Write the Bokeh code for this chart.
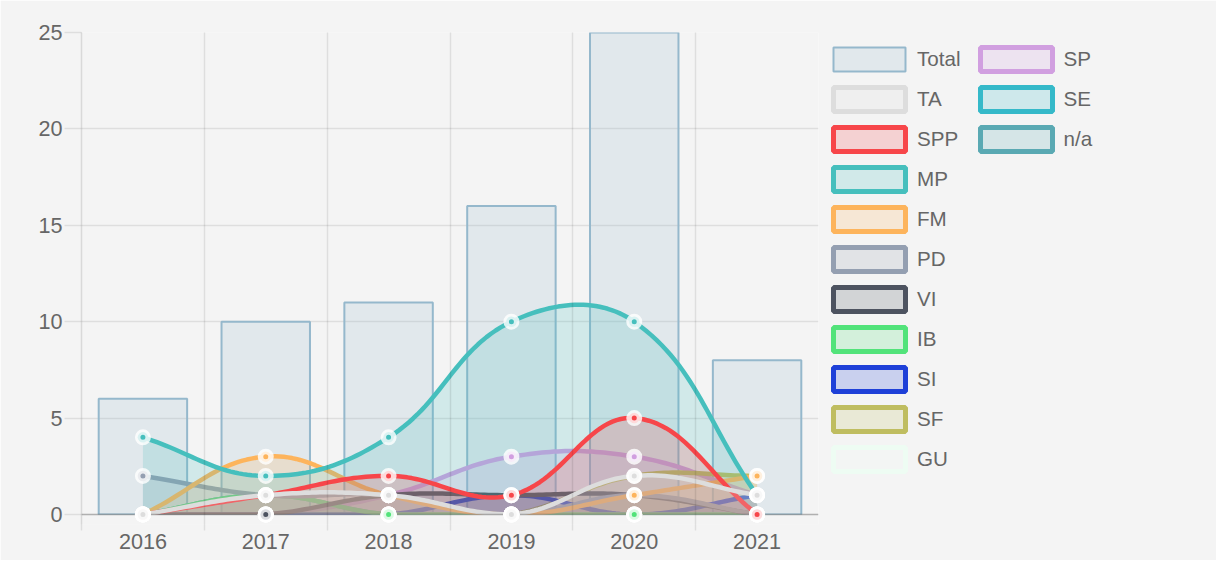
import numpy as np
from bokeh.plotting import figure
from bokeh.models import Range1d, FixedTicker, Legend, LegendItem, Span, BoxAnnotation
from bokeh.embed import file_html
from bokeh.resources import INLINE

years = ["2016", "2017", "2018", "2019", "2020", "2021"]
total = [6, 10, 11, 16, 25, 8]

names = ["TA", "SPP", "MP", "FM", "PD", "VI", "IB", "SI", "SF", "GU", "SP", "SE", "n/a"]
ta = [0, 1, 1, 0, 2, 1]
spp = [0, 1, 2, 1, 5, 0]
mp = [4, 2, 4, 10, 10, 1]
fm = [0, 3, 1, 0, 1, 2]
pd_ = [2, 1, 1, 0, 1, 0]
vi = [0, 0, 1, 1, 1, 0]
ib = [0, 1, 0, 0, 0, 0]
si = [0, 0, 0, 1, 0, 1]
sf = [0, 0, 0, 0, 2, 2]
gu = [0, 0, 0, 0, 0, 0]
sp = [0, 0, 1, 3, 3, 1]
se = [0, 0, 0, 0, 0, 0]
na = [0, 1, 0, 0, 0, 0]
series = [ta, spp, mp, fm, pd_, vi, ib, si, sf, gu, sp, se, na]
colors = ["#dddddd", "#f7464a", "#46bfbd", "#fdb45c", "#949fb1", "#4d5360",
          "#52e37a", "#1e40d8", "#bfbd60", "#eefcf3", "#d19fe0", "#35b9c9", "#5aa9b3"]
total_color = "#95b8cc"

# pixel scales used for Chart.js-like spline control points
SX, SY = 122.8, 19.28
YMAX = 25


def smooth(vals, t=0.4, n=30):
    N = len(vals)
    px = np.arange(N) * SX
    py = np.array(vals, float) * SY
    cpp, cpn = [], []
    for i in range(N):
        a = max(i - 1, 0)
        b = min(i + 1, N - 1)
        d01 = np.hypot(px[i] - px[a], py[i] - py[a])
        d12 = np.hypot(px[b] - px[i], py[b] - py[i])
        s = d01 + d12
        s01 = d01 / s if s else 0.0
        s12 = d12 / s if s else 0.0
        fa, fb = t * s01, t * s12
        dx, dy = px[b] - px[a], py[b] - py[a]
        cl = lambda v: min(max(v, 0.0), YMAX * SY)
        cpp.append((px[i] - fa * dx, cl(py[i] - fa * dy)))
        cpn.append((px[i] + fb * dx, cl(py[i] + fb * dy)))
    xs, ys = [px[0]], [py[0]]
    tt = np.linspace(0, 1, n + 1)[1:]
    for i in range(N - 1):
        p0 = np.array([px[i], py[i]])
        p1 = np.array(cpn[i])
        p2 = np.array(cpp[i + 1])
        p3 = np.array([px[i + 1], py[i + 1]])
        for u in tt:
            q = (1 - u) ** 3 * p0 + 3 * (1 - u) ** 2 * u * p1 + 3 * (1 - u) * u ** 2 * p2 + u ** 3 * p3
            xs.append(q[0])
            ys.append(q[1])
    return np.array(xs) / SX, np.array(ys) / SY


FONT = "Liberation Sans"
TEXT = "#666666"
BG = "#f4f4f4"

p = figure(frame_width=737, frame_height=492,
           min_border_left=81, min_border_top=32, min_border_right=390, min_border_bottom=36,
           x_range=Range1d(-0.5, 5.5), y_range=Range1d(-0.52, 25),
           output_backend="svg", toolbar_location=None)
p.background_fill_color = BG
p.border_fill_color = BG
p.outline_line_color = None

xs_idx = list(range(len(years)))

# grid
p.xgrid.ticker = FixedTicker(ticks=[0.5, 1.5, 2.5, 3.5, 4.5])
p.xgrid.grid_line_color = "#000000"
p.xgrid.grid_line_alpha = 0.09
p.xgrid.grid_line_width = 1.5
p.xgrid.level = "annotation"
p.ygrid.ticker = FixedTicker(ticks=[5, 10, 15, 20, 25])
p.ygrid.grid_line_color = "#000000"
p.ygrid.grid_line_alpha = 0.09
p.ygrid.grid_line_width = 1.5

# axes
xa = p.xaxis[0]
xa.ticker = FixedTicker(ticks=xs_idx, minor_ticks=[-0.5, 0.5, 1.5, 2.5, 3.5, 4.5])
xa.major_label_overrides = {i: y for i, y in enumerate(years)}
xa.major_tick_line_color = None
xa.major_tick_out = 6
xa.major_tick_in = 0
xa.minor_tick_out = 6
xa.minor_tick_in = 0
xa.minor_tick_line_color = "#000000"
xa.minor_tick_line_alpha = 0.09
xa.minor_tick_line_width = 1.5
xa.axis_line_color = None
xa.major_label_standoff = 3
xa.major_label_text_font = FONT
xa.major_label_text_font_size = "21.6px"
xa.major_label_text_color = TEXT

ya = p.yaxis[0]
ya.ticker = FixedTicker(ticks=[0, 5, 10, 15, 20, 25])
ya.major_tick_out = 17
ya.major_tick_in = 0
ya.major_tick_line_color = "#000000"
ya.major_tick_line_alpha = 0.09
ya.major_tick_line_width = 1.5
ya.minor_tick_line_color = None
ya.axis_line_color = "#000000"
ya.axis_line_alpha = 0.12
ya.axis_line_width = 1.5
ya.major_label_standoff = 2
ya.major_label_text_font = FONT
ya.major_label_text_font_size = "21.6px"
ya.major_label_text_color = TEXT

# bars (Total)
p.vbar(x=xs_idx, top=total, width=0.72, bottom=0,
       fill_color=total_color, fill_alpha=0.2, line_color=total_color, line_width=2)

# series, last dataset drawn first
for name, vals, col in reversed(list(zip(names, series, colors))):
    sx, sy = smooth(vals)
    p.varea(x=sx, y1=np.zeros_like(sy), y2=sy, fill_color=col, fill_alpha=0.2)
    p.line(sx, sy, line_color=col, line_width=4.5, line_join="round")

# hide what lies below the zero line (chart area clipping)
mask = BoxAnnotation(top=0, fill_color=BG, fill_alpha=1.0, line_alpha=0, level="glyph")
p.add_layout(mask)
zero = Span(location=0, dimension="width", line_color="#000000", line_alpha=0.28,
            line_width=1.5, level="glyph")
p.add_layout(zero)

for name, vals, col in reversed(list(zip(names, series, colors))):
    pts = p.scatter(xs_idx, vals, size=10.5, fill_color=col, line_color="#ffffff",
                    line_alpha=0.8, line_width=5.5)
    pts.level = "overlay"

# legend entries
nan = [float("nan")]
items = []
r = p.quad(left=nan, right=nan, top=nan, bottom=nan, fill_color=total_color, fill_alpha=0.2,
           line_color=total_color, line_width=2)
items.append(LegendItem(label="Total", renderers=[r]))
for name, col in zip(names, colors):
    r = p.quad(left=nan, right=nan, top=nan, bottom=nan, fill_color=col, fill_alpha=0.2,
               line_color=col, line_width=5)
    items.append(LegendItem(label=name, renderers=[r]))

legend = Legend(items=items, location=(0, 44), orientation="vertical", nrows=11,
                glyph_width=90, glyph_height=30, label_height=22,
                label_width=20, label_standoff=3, spacing=10, padding=6, margin=0,
                label_text_font=FONT, label_text_font_size="20.6px", label_text_color=TEXT,
                background_fill_alpha=0, border_line_alpha=0)
p.add_layout(legend, "right")

open("out.html", "w").write(file_html(p, INLINE))
